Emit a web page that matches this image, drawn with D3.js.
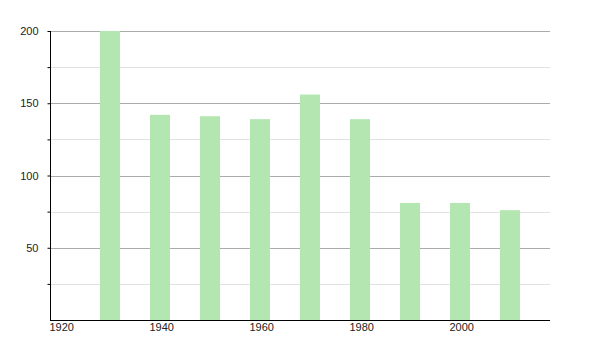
<!DOCTYPE html>
<html>
<head>
<meta charset="utf-8">
<script src="https://cdn.jsdelivr.net/npm/d3@7"></script>
<style>
  html, body { margin: 0; padding: 0; background: #fff; }
  svg { display: block; font-family: "Liberation Sans", Arial, sans-serif; }
</style>
</head>
<body>
<svg id="chart" width="600" height="350"></svg>
<script>
const years = [1930, 1940, 1950, 1960, 1970, 1980, 1990, 2000, 2010];
const values = [200, 142, 141, 139, 156, 139, 81, 81, 76];
const xTickLabels = [1920, 1940, 1960, 1980, 2000];
const yTickLabels = [50, 100, 150, 200];
const yMinorTicks = [25, 75, 125, 175];

(function () {
const svg = d3.select("#chart");
const mLeft = 50, mRight = 550, mTop = 31, mBottom = 320;

const x = d3.scaleLinear().domain([1920, 2020]).range([mLeft, mRight]);
const y = d3.scaleLinear().domain([0, 200]).range([mBottom, mTop]);

// gridlines
svg.append("g").selectAll("line").data(yMinorTicks).join("line")
  .attr("x1", mLeft).attr("x2", mRight)
  .attr("y1", d => Math.round(y(d)) + 0.5).attr("y2", d => Math.round(y(d)) + 0.5)
  .attr("stroke", "#e2e2e2").attr("stroke-width", 1);
svg.append("g").selectAll("line").data(yTickLabels).join("line")
  .attr("x1", mLeft).attr("x2", mRight)
  .attr("y1", d => Math.round(y(d)) + 0.5).attr("y2", d => Math.round(y(d)) + 0.5)
  .attr("stroke", "#ababab").attr("stroke-width", 1);

// bars
svg.append("g").selectAll("rect").data(years).join("rect")
  .attr("x", d => x(d))
  .attr("width", d => x(d + 4) - x(d))
  .attr("y", (d, i) => y(values[i]))
  .attr("height", (d, i) => y(0) - y(values[i]))
  .attr("fill", "#b3e6b1");

// y axis
const yAxis = d3.axisLeft(y)
  .tickValues([25, 50, 75, 100, 125, 150, 175, 200])
  .tickSize(3)
  .tickFormat(d => yTickLabels.includes(d) ? d : "");
const gy = svg.append("g").attr("transform", `translate(${mLeft + 0.5},0)`).call(yAxis);
gy.select(".domain").attr("stroke", "#000").attr("d", `M0,${mTop}V${mBottom}`);
gy.selectAll(".tick line").attr("stroke", "#000");
gy.selectAll(".tick text").attr("x", -12).attr("font-size", 11).attr("fill", "#222")
  .attr("font-family", "Liberation Sans, Arial, sans-serif");

// x axis
const xAxis = d3.axisBottom(x).tickValues(xTickLabels).tickSize(0).tickFormat(d3.format("d"));
const gx = svg.append("g").attr("transform", `translate(0,${mBottom + 0.5})`).call(xAxis);
gx.select(".domain").attr("stroke", "#000").attr("d", `M${mLeft},0H${mRight}`);
gx.selectAll(".tick text").attr("text-anchor", "start").attr("x", -1).attr("y", 3)
  .attr("font-size", 11).attr("fill", "#222")
  .attr("font-family", "Liberation Sans, Arial, sans-serif");
})();
</script>
</body>
</html>
